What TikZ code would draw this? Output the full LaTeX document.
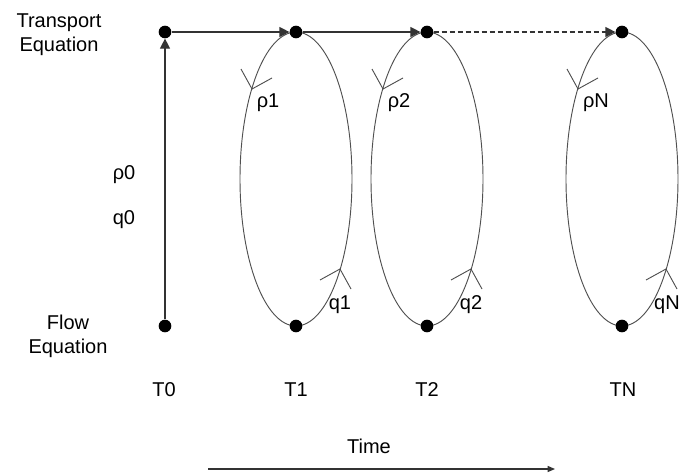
\documentclass[tikz,border=0pt]{standalone}
\usepackage{fontspec}
\setmainfont{Liberation Sans}
\usetikzlibrary{arrows.meta}
\definecolor{ln}{HTML}{333333}
\definecolor{el}{HTML}{505050}
\begin{document}
\begin{tikzpicture}[x=0.75pt,y=-0.75pt,
  font=\fontsize{15}{18}\selectfont,
  dot/.style={circle,fill=black,inner sep=0pt,minimum size=9.5pt},
  conn/.style={draw=ln,line width=0.9pt,-{Triangle[length=7.5pt,width=7.5pt]}},
  timearrow/.style={draw=ln,line width=0.9pt,-{Triangle[length=5.5pt,width=4.5pt]}},
  ell/.style={draw=el,line width=0.7pt},
  chev/.style={draw=el,line width=0.7pt},
  lbl/.style={anchor=base,inner sep=0pt,text=black}]
\useasboundingbox (0,0) rectangle (683,475);

% ellipses and chevrons
\foreach \c in {296,427,622}{
  \draw[ell] (\c,179) ellipse [x radius=42pt, y radius=110.25pt];
  \draw[chev] (\c-55,69) -- (\c-44,89) -- (\c-24,78);
  \draw[chev] (\c+55,289) -- (\c+44,269) -- (\c+24,280);
}

% dots
\node[dot] (a0) at (165,32) {};
\node[dot] (a1) at (296,32) {};
\node[dot] (a2) at (427,32) {};
\node[dot] (aN) at (622,32) {};
\node[dot] (b0) at (165,326) {};
\node[dot] (b1) at (296,326) {};
\node[dot] (b2) at (427,326) {};
\node[dot] (bN) at (622,326) {};

% connectors
\draw[conn] (b0) -- (a0);
\draw[conn] (a0) -- (a1);
\draw[conn] (a1) -- (a2);
\draw[conn,dash pattern=on 3.75pt off 2.25pt] (a2) -- (aN);

% side labels
\node[align=center,inner sep=0pt] (tr) at (59,35) {Transport\\Equation};
\node[align=center,inner sep=0pt] (fl) at (68,336) {Flow\\Equation};

\node[lbl] (r0) at (124,179) {ρ0};
\node[lbl] (q0) at (124,224) {q0};

\node[lbl] (r1) at (268,107) {ρ1};
\node[lbl] (r2) at (399,107) {ρ2};
\node[lbl] (rN) at (596,107) {ρN};
\node[lbl] (q1) at (340,309) {q1};
\node[lbl] (q2) at (471,309) {q2};
\node[lbl] (qN) at (667,309) {qN};

\node[lbl] (T0) at (164,396) {T0};
\node[lbl] (T1) at (296,396) {T1};
\node[lbl] (T2) at (427,396) {T2};
\node[lbl] (TN) at (623,396) {TN};

\node[lbl] (time) at (369,453) {Time};
\coordinate (ts) at (208,469);
\coordinate (te) at (555,469);
\draw[timearrow] (ts) -- (te);
\end{tikzpicture}
\end{document}
